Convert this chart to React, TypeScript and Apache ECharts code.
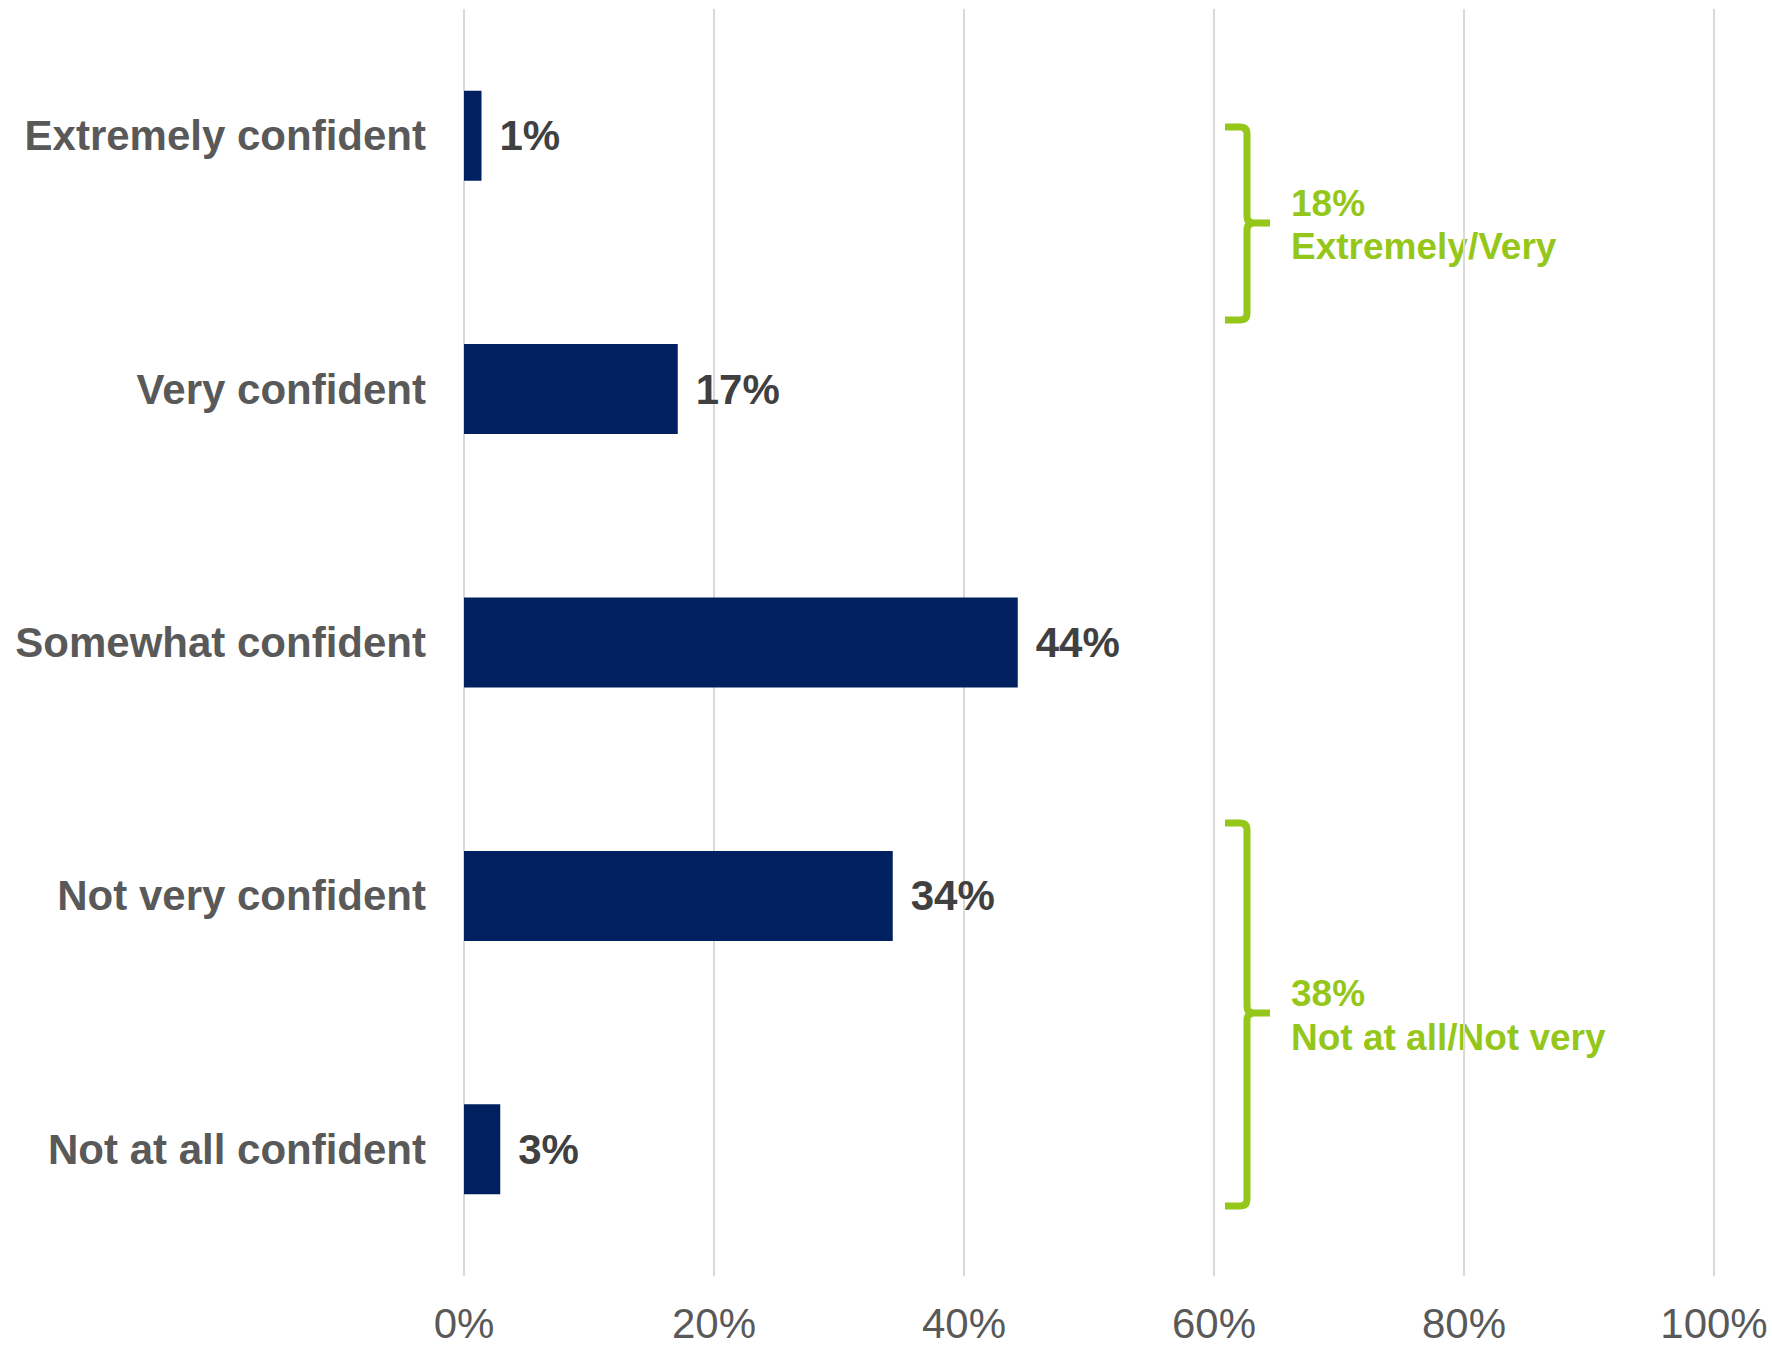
import React, { useEffect, useRef } from "react";
import * as echarts from "echarts";

const categories = [
  "Extremely confident",
  "Very confident",
  "Somewhat confident",
  "Not very confident",
  "Not at all confident",
];
const values = [1.4, 17.1, 44.3, 34.3, 2.9];
const xTicks = [0, 20, 40, 60, 80, 100];
const groupLabels = [
  { pct: "18%", text: "Extremely/Very" },
  { pct: "38%", text: "Not at all/Not very" },
];

const GREEN = "#94C71A";

function bracePath(x0: number, xv: number, xt: number, yt: number, ym: number, yb: number) {
  const r = 7;
  return (
    `M${x0},${yt} L${xv - r},${yt} Q${xv},${yt} ${xv},${yt + r} ` +
    `L${xv},${ym - r} Q${xv},${ym} ${xv + r},${ym} L${xt},${ym} ` +
    `M${xv + r},${ym} Q${xv},${ym} ${xv},${ym + r} ` +
    `L${xv},${yb - r} Q${xv},${yb} ${xv - r},${yb} L${x0},${yb}`
  );
}

let registered = false;
function registerShapes() {
  if (registered) return;
  registered = true;
  echarts.graphic.registerShape(
    "braceTop",
    echarts.graphic.extendPath(bracePath(1225, 1247, 1270, 127, 223, 320), {})
  );
  echarts.graphic.registerShape(
    "braceBottom",
    echarts.graphic.extendPath(bracePath(1225, 1247, 1270, 823, 1013, 1206), {})
  );
}

export default function App() {
  const ref = useRef<HTMLDivElement>(null);
  useEffect(() => {
    if (!ref.current) return;
    registerShapes();
    const chart = echarts.init(ref.current, undefined, { renderer: "svg" });
    const font = "Arial, 'Liberation Sans', sans-serif";
    const braceStyle = {
      fill: "none",
      stroke: GREEN,
      lineWidth: 7,
      lineCap: "butt",
      lineJoin: "round",
    };
    const greenText = (y: number, text: string) => ({
      type: "text",
      x: 1291,
      y,
      style: {
        text,
        fill: GREEN,
        font: `bold 37px ${font}`,
        verticalAlign: "middle",
      },
    });
    chart.setOption({
      animation: false,
      backgroundColor: "#ffffff",
      grid: { left: 464, right: 58, top: 9, bottom: 70, containLabel: false },
      xAxis: {
        type: "value",
        min: xTicks[0],
        max: xTicks[xTicks.length - 1],
        interval: xTicks[1] - xTicks[0],
        axisLine: { show: false },
        axisTick: { show: false },
        splitLine: { show: true, lineStyle: { color: "#D9D9D9", width: 2 } },
        axisLabel: {
          formatter: "{value}%",
          color: "#595959",
          fontSize: 42,
          fontFamily: font,
          margin: 26,
        },
      },
      yAxis: {
        type: "category",
        data: categories,
        inverse: true,
        axisLine: { show: false },
        axisTick: { show: false },
        axisLabel: {
          color: "#595959",
          fontSize: 42,
          fontWeight: "bold",
          fontFamily: font,
          margin: 38,
        },
      },
      series: [
        {
          type: "bar",
          data: values,
          barWidth: 90,
          itemStyle: { color: "#002060" },
          label: {
            show: true,
            position: "right",
            distance: 18,
            formatter: (p: any) => Math.round(p.value) + "%",
            color: "#404040",
            fontSize: 42,
            fontWeight: "bold",
            fontFamily: font,
          },
        },
      ],
      graphic: [
        { type: "braceTop", x: 0, y: 0, style: braceStyle, silent: true },
        { type: "braceBottom", x: 0, y: 0, style: braceStyle, silent: true },
        greenText(203, groupLabels[0].pct),
        greenText(246, groupLabels[0].text),
        greenText(993, groupLabels[1].pct),
        greenText(1037, groupLabels[1].text),
      ],
    });
    return () => chart.dispose();
  }, []);
  return (
    <div
      ref={ref}
      style={{ position: "fixed", left: 0, top: 0, width: 1772, height: 1346 }}
    />
  );
}
